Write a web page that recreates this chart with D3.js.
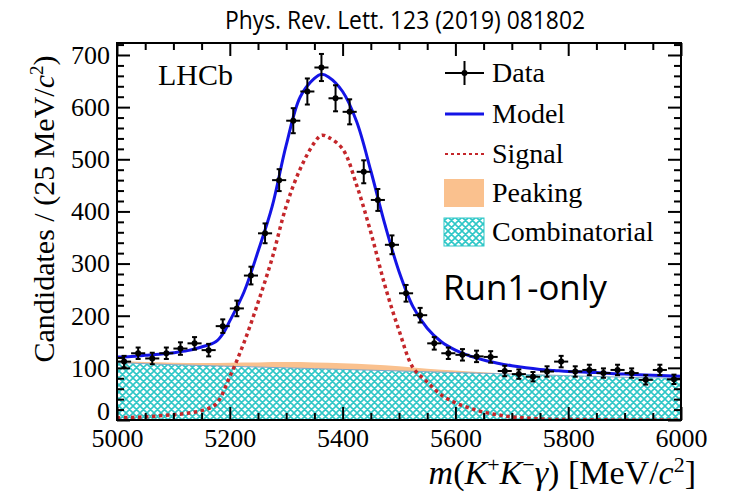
<!DOCTYPE html>
<html><head><meta charset="utf-8">
<script src="https://cdn.jsdelivr.net/npm/d3@7"></script>
<style>body{margin:0;background:#fff}</style>
</head><body><svg id="c" width="731" height="494"></svg>
<script>
// ---- data ----
const binCenters = [5012.5,5037.5,5062.5,5087.5,5112.5,5137.5,5162.5,5187.5,5212.5,5237.5,
  5262.5,5287.5,5312.5,5337.5,5362.5,5387.5,5412.5,5437.5,5462.5,5487.5,
  5512.5,5537.5,5562.5,5587.5,5612.5,5637.5,5662.5,5687.5,5712.5,5737.5,
  5762.5,5787.5,5812.5,5837.5,5862.5,5887.5,5912.5,5937.5,5962.5,5987.5];
const counts = [112,128,118,128,137,147,134,180,214,277,
  358,460,574,630,676,617,591,476,422,336,
  243,201,147,128,125,122,121,94,88,83,
  93,112,93,96,90,96,90,77,96,78];
const errors = [11,11,11,11,12,12,12,13,15,17,
  19,21,24,25,26,25,24,22,21,18,
  16,14,12,11,11,11,11,10,9,9,
  10,11,10,10,9,10,9,9,10,9];
const modelMass = [5000,5025,5050,5075,5100,5125,5150,5175,5187.5,5200,5225,5250,5275,5300,5325,5350,5362.5,5375,5400,5425,5450,5475,5500,5525,5550,5575,5600,5625,5650,5675,5700,5725,5750,5775,5800,5825,5850,5875,5900,5925,5950,5975,6000];
const modelValues = [121,122,124,126,129,133,140,150,165,190,245,323,409,527,620,655,663,658,630,572,478,375,285,217,176,150,134,123,115,109,104,100,97,95,93,92,91,89,88,87,86,85,84];
const signalMass = [5000,5025,5050,5075,5100,5125,5150,5175,5200,5225,5250,5275,5300,5325,5350,5362.5,5375,5400,5425,5450,5475,5500,5525,5550,5575,5600,5625,5650,5675,5700,5725,5750,5775,5800,5850,5900,5950,6000];
const signalValues = [4,5,6,8,10,13,18,30,83,148,225,310,410,482,532,546,542,520,450,360,258,172,100,73,48,33,23,15,10,6,4,2,1,1,0.5,0,0,0];
const bkgMass = [5000,5050,5100,5150,5200,5250,5300,5350,5400,5450,5500,5550,5600,5650,5700,5750,5800,5850,5900,5950,6000];
const combValues = [110,108,106,104.5,103,101.5,100,98.5,97,95.5,94,92.5,91,89.5,88,86.5,85,83.5,82,81,80];
const peakingValues = [3,3,4,5,7,9,11,12,12,11,9,6,4,2,1,0.5,0,0,0,0,0];
const xTicks = [5000,5200,5400,5600,5800,6000];
const yTicks = [0,100,200,300,400,500,600,700];
const legendLabels = ["Data","Model","Signal","Peaking","Combinatorial"];

// ---- layout ----
const svg = d3.select("#c");
const L = 117, R = 681, T = 43, B = 420;
const x = d3.scaleLinear().domain([5000,6000]).range([L,R]);
const y = d3.scaleLinear().domain([0,723]).range([B,T]);
const serif = "'Liberation Serif','Times New Roman',serif";
const BLUE = "#1414e6", RED = "#c4262a", ORANGE = "#fac18e", CYAN = "#2fc7c7";

const defs = svg.append("defs");
const pat = defs.append("pattern").attr("id","hatch").attr("patternUnits","userSpaceOnUse")
  .attr("width",7).attr("height",7);
pat.append("rect").attr("width",7).attr("height",7).attr("fill","#fff");
pat.append("path").attr("d","M0,0L7,7M-1,6L1,8M6,-1L8,1M7,0L0,7M-1,1L1,-1M6,8L8,6")
  .attr("stroke",CYAN).attr("stroke-width",1.6).attr("fill","none");
defs.append("clipPath").attr("id","clip").append("rect")
  .attr("x",L).attr("y",T).attr("width",R-L).attr("height",B-T);

const g = svg.append("g").attr("clip-path","url(#clip)");
const bkg = bkgMass.map((m,i)=>({m, c:combValues[i], p:peakingValues[i]}));
g.append("path").datum(bkg)
  .attr("d", d3.area().x(d=>x(d.m)).y0(d=>y(d.c)).y1(d=>y(d.c+d.p)).curve(d3.curveMonotoneX))
  .attr("fill",ORANGE);
g.append("path").datum(bkg)
  .attr("d", d3.area().x(d=>x(d.m)).y0(y(0)).y1(d=>y(d.c)).curve(d3.curveMonotoneX))
  .attr("fill","url(#hatch)");
g.append("path").datum(bkg)
  .attr("d", d3.line().x(d=>x(d.m)).y(d=>y(d.c)).curve(d3.curveMonotoneX))
  .attr("fill","none").attr("stroke","#7fa6c8").attr("stroke-width",1);
g.append("path").datum(signalMass.map((m,i)=>[m,signalValues[i]]))
  .attr("d", d3.line().x(d=>x(d[0])).y(d=>y(d[1])).curve(d3.curveCatmullRom.alpha(0.5)))
  .attr("fill","none").attr("stroke",RED).attr("stroke-width",3.5).attr("stroke-dasharray","3.5,3.5");
g.append("path").datum(modelMass.map((m,i)=>[m,modelValues[i]]))
  .attr("d", d3.line().x(d=>x(d[0])).y(d=>y(d[1])).curve(d3.curveCatmullRom.alpha(0.5)))
  .attr("fill","none").attr("stroke",BLUE).attr("stroke-width",3);

// data points
const pts = svg.append("g");
binCenters.forEach((m,i)=>{
  const cx = x(m), cy = y(counts[i]);
  const y1 = y(counts[i]+errors[i]), y2 = y(counts[i]-errors[i]);
  const gp = pts.append("g").attr("stroke","#000").attr("stroke-width",2);
  gp.append("line").attr("x1",x(m-12.5)).attr("x2",x(m+12.5)).attr("y1",cy).attr("y2",cy);
  gp.append("line").attr("x1",cx).attr("x2",cx).attr("y1",y1).attr("y2",y2);
  gp.append("line").attr("x1",cx-2.5).attr("x2",cx+2.5).attr("y1",y1).attr("y2",y1);
  gp.append("line").attr("x1",cx-2.5).attr("x2",cx+2.5).attr("y1",y2).attr("y2",y2);
  pts.append("circle").attr("cx",cx).attr("cy",cy).attr("r",3).attr("fill","#000");
});

// ---- axes / frame ----
function styleAxis(sel, labels){
  sel.select(".domain").remove();
  sel.selectAll("line").attr("stroke","#000").attr("stroke-width",2);
  sel.selectAll("text").attr("font-family",serif).attr("font-size",26).attr("fill","#000");
  if(!labels) sel.selectAll("text").remove();
}
const xMinor = d3.range(5000,6001,50).filter(v=>v%200!==0);
const yMinor = d3.range(0,721,20).filter(v=>v%100!==0);
svg.append("g").attr("transform",`translate(0,${B})`)
  .call(d3.axisBottom(x).tickValues(xTicks).tickSize(-13).tickPadding(9).tickFormat(d3.format("d")))
  .call(s=>styleAxis(s,true));
svg.append("g").attr("transform",`translate(0,${B})`)
  .call(d3.axisBottom(x).tickValues(xMinor).tickSize(-7)).call(s=>styleAxis(s,false));
svg.append("g").attr("transform",`translate(0,${T})`)
  .call(d3.axisTop(x).tickValues(xTicks).tickSize(-13)).call(s=>styleAxis(s,false));
svg.append("g").attr("transform",`translate(0,${T})`)
  .call(d3.axisTop(x).tickValues(xMinor).tickSize(-7)).call(s=>styleAxis(s,false));
svg.append("g").attr("transform",`translate(${L},0)`)
  .call(d3.axisLeft(y).tickValues(yTicks).tickSize(-13).tickPadding(7))
  .call(s=>styleAxis(s,true))
  .call(s=>s.selectAll("text").filter(d=>d===0).attr("dy","-0.02em"));
svg.append("g").attr("transform",`translate(${L},0)`)
  .call(d3.axisLeft(y).tickValues(yMinor).tickSize(-7)).call(s=>styleAxis(s,false));
svg.append("g").attr("transform",`translate(${R},0)`)
  .call(d3.axisRight(y).tickValues(yTicks).tickSize(-13)).call(s=>styleAxis(s,false));
svg.append("g").attr("transform",`translate(${R},0)`)
  .call(d3.axisRight(y).tickValues(yMinor).tickSize(-7)).call(s=>styleAxis(s,false));
svg.append("rect").attr("x",L).attr("y",T).attr("width",R-L).attr("height",B-T)
  .attr("fill","none").attr("stroke","#000").attr("stroke-width",2);

// ---- axis titles ----
const xt = svg.append("text").attr("x",696).attr("y",484).attr("text-anchor","end")
  .attr("font-family",serif).attr("font-size",34).attr("fill","#000");
xt.append("tspan").attr("font-style","italic").text("m");
xt.append("tspan").text("(");
xt.append("tspan").attr("font-style","italic").text("K");
xt.append("tspan").attr("font-size",22).attr("dy",-12).text("+");
xt.append("tspan").attr("font-style","italic").attr("dy",12).text("K");
xt.append("tspan").attr("font-size",22).attr("dy",-12).text("\u2212");
xt.append("tspan").attr("font-style","italic").attr("dy",12).text("\u03b3");
xt.append("tspan").text(") [MeV/");
xt.append("tspan").attr("font-style","italic").text("c");
xt.append("tspan").attr("font-size",22).attr("dy",-12).text("2");
xt.append("tspan").attr("dy",12).text("]");

const yt = svg.append("text").attr("transform","translate(54,209) rotate(-90)")
  .attr("text-anchor","middle").attr("font-family",serif).attr("font-size",30).attr("fill","#000");
yt.append("tspan").text("Candidates / (25 MeV/");
yt.append("tspan").attr("font-style","italic").text("c");
yt.append("tspan").attr("font-size",19).attr("dy",-11).text("2");
yt.append("tspan").attr("dy",11).text(")");

// ---- labels ----
svg.append("text").attr("x",158).attr("y",85).attr("font-family",serif).attr("font-size",30)
  .attr("fill","#000").text("LHCb");
svg.append("text").attr("x",405).attr("y",29).attr("text-anchor","middle")
  .attr("font-family","'Open Sans',sans-serif").attr("font-size",25).attr("fill","#000")
  .attr("textLength",360).attr("lengthAdjust","spacingAndGlyphs")
  .text("Phys. Rev. Lett. 123 (2019) 081802");
svg.append("text").attr("x",443).attr("y",300)
  .attr("font-family","'Open Sans',sans-serif").attr("font-size",35).attr("fill","#000")
  .attr("textLength",164).attr("lengthAdjust","spacingAndGlyphs")
  .text("Run1-only");

// ---- legend ----
const lg = svg.append("g");
const rowY = [73,114,154,193,232];
const lx0 = 445, lx1 = 484;
lg.append("line").attr("x1",lx0).attr("x2",lx1).attr("y1",rowY[0]).attr("y2",rowY[0]).attr("stroke","#000").attr("stroke-width",2);
lg.append("line").attr("x1",(lx0+lx1)/2).attr("x2",(lx0+lx1)/2).attr("y1",rowY[0]-12).attr("y2",rowY[0]+12).attr("stroke","#000").attr("stroke-width",2);
lg.append("circle").attr("cx",(lx0+lx1)/2).attr("cy",rowY[0]).attr("r",3).attr("fill","#000");
lg.append("line").attr("x1",lx0).attr("x2",lx1).attr("y1",rowY[1]).attr("y2",rowY[1]).attr("stroke",BLUE).attr("stroke-width",3);
lg.append("line").attr("x1",lx0).attr("x2",lx1).attr("y1",rowY[2]).attr("y2",rowY[2]).attr("stroke",RED).attr("stroke-width",2).attr("stroke-dasharray","3,3");
lg.append("rect").attr("x",444).attr("y",rowY[3]-14).attr("width",40).attr("height",28).attr("fill",ORANGE);
lg.append("rect").attr("x",444).attr("y",rowY[4]-14).attr("width",40).attr("height",28).attr("fill","url(#hatch)").attr("stroke",CYAN).attr("stroke-width",1);
legendLabels.forEach((t,i)=>{
  lg.append("text").attr("x",492).attr("y",rowY[i]+9).attr("font-family",serif)
    .attr("font-size",28).attr("fill","#000").text(t);
});
</script></body></html>
